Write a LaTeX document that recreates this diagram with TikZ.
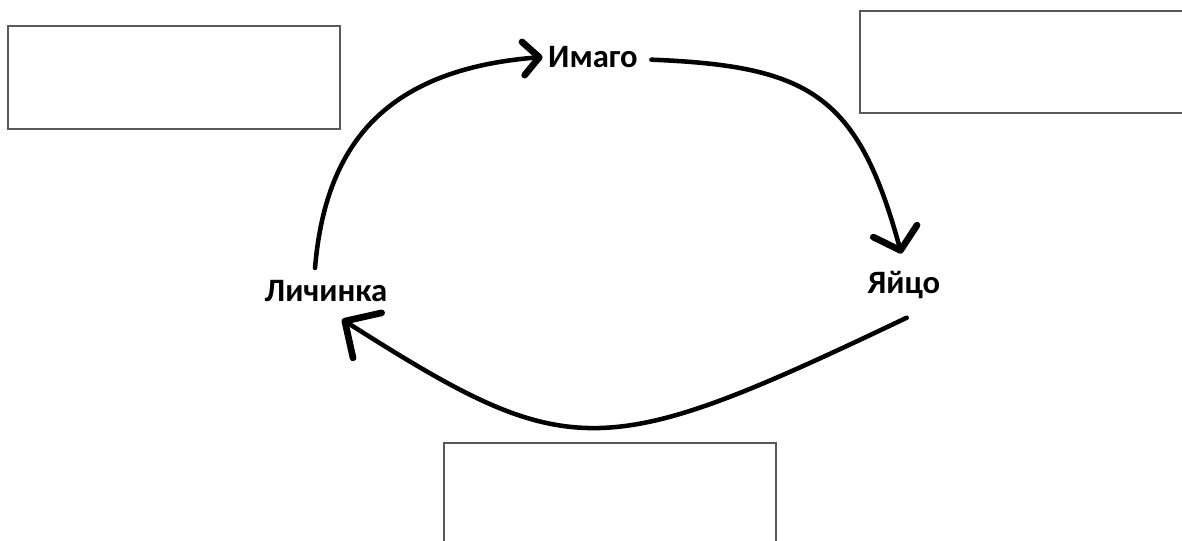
\documentclass[tikz,border=0pt]{standalone}
\usepackage{fontspec}
\setmainfont{Carlito}
\usetikzlibrary{arrows.meta}
\begin{document}
\begin{tikzpicture}[x=0.75pt,y=-0.75pt,
  lbl/.style={font=\bfseries\fontsize{24.5}{28}\selectfont, inner sep=0pt},
  emptybox/.style={draw=black!65, line width=0.8pt},
  cyc/.style={line width=3.4pt, line cap=round, black},
  tipA/.style={-{Straight Barb[length=12pt,width=25pt,line width=5pt,round]}},
  tipB/.style={-{Straight Barb[length=15pt,width=34pt,line width=5pt,round]}},
  tipC/.style={-{Straight Barb[length=20pt,width=40pt,line width=5pt,round]}}]
\useasboundingbox (0,0) rectangle (1182,540);
\fill[white] (0,0) rectangle (1182,540);
% empty boxes
\draw[emptybox] (8,26) rectangle (340,129);
\draw[emptybox] (860,11) rectangle (1195,113);
\draw[emptybox] (444,443) rectangle (776,560);
% labels
\node[lbl] (im) at (593,57) {Имаго};
\node[lbl] (ya) at (904,285) {Яйцо};
\node[lbl] (li) at (326,291) {Личинка};
% connector end points
\coordinate (a1s) at ([xshift=-8.25pt,yshift=9pt]li.north);
\coordinate (a1e) at ([xshift=-4pt,yshift=0pt]im.west);
\coordinate (a2s) at ([xshift=10pt,yshift=-2pt]im.east);
\coordinate (a2e) at ([xshift=-2pt,yshift=13pt]ya.north);
\coordinate (a3s) at ([xshift=2pt,yshift=-14pt]ya.south);
\coordinate (a3e) at ([xshift=12pt,yshift=-13pt]li.south);
% cycle arrows
\draw[cyc,tipA] (a1s) .. controls (325,150) and (380,70) .. (a1e);
\draw[cyc,tipB] (a2s) .. controls (810,66) and (858,95) .. (a2e);
\draw[cyc,tipC] (a3s) .. controls (600,464) and (570,464) .. (a3e);
\end{tikzpicture}
\end{document}
